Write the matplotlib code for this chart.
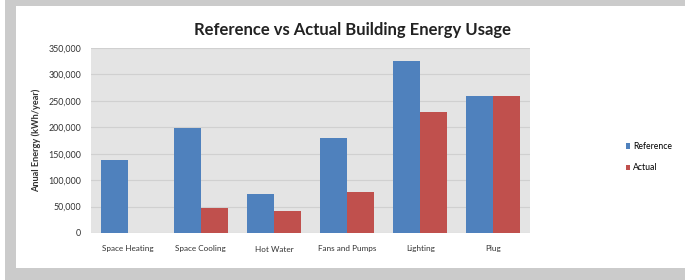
import numpy as np
import matplotlib
matplotlib.use("Agg")
import matplotlib.pyplot as plt
from matplotlib.patches import Rectangle
from matplotlib.ticker import FuncFormatter

plt.rcParams['font.family'] = ['Lato', 'DejaVu Sans']

# data
categories = ["Space Heating", "Space Cooling", "Hot Water", "Fans and Pumps", "Lighting", "Plug"]
reference = [138000, 198000, 74000, 180000, 325000, 259000]
actual = [0, 48000, 42000, 78000, 228000, 259000]

blue = "#4f81bd"
red = "#c0504d"

fig = plt.figure(figsize=(6.85, 2.8), dpi=100, facecolor="white")

# grey frame around white panel (no grey on the right edge)
fig.patches.append(Rectangle((5 / 685, 0), 1.2, 1, transform=fig.transFigure,
                             facecolor="#cbcbcb", edgecolor="none", zorder=-10))
fig.patches.append(Rectangle((16 / 685, 12 / 280), 1.2, 262 / 280,
                             transform=fig.transFigure,
                             facecolor="white", edgecolor="none", zorder=-9))

ax = fig.add_axes([91 / 685, 47 / 280, 439 / 685, 185 / 280])
ax.set_facecolor("#e4e4e4")

x = np.arange(len(categories))
w = 0.37
ax.bar(x - w / 2, reference, w, color=blue, label="Reference", zorder=3)
ax.bar(x + w / 2, actual, w, color=red, label="Actual", zorder=3)

ax.set_xlim(-0.5, len(categories) - 0.5)
ax.set_ylim(0, 350000)
ax.set_yticks(np.arange(0, 350001, 50000))
ax.yaxis.set_major_formatter(FuncFormatter(lambda v, p: f"{int(v):,}"))
ax.grid(axis="y", color="#d0d0d0", linewidth=0.8, zorder=0)
ax.set_xticks(x)
ax.set_xticklabels(categories, fontsize=5.9, color="#333333")
ax.tick_params(axis="y", labelsize=6.4, labelcolor="#333333", length=0, pad=7)
ax.tick_params(axis="x", length=0, pad=9)
for s in ax.spines.values():
    s.set_visible(False)

ax.set_ylabel("Anual Energy (kWh/year)", fontsize=6.6, fontweight="bold",
              color="#333333", labelpad=5)

fig.text(353 / 685, 1 - 30 / 280, "Reference vs Actual Building Energy Usage",
         ha="center", va="center", fontsize=12, fontweight="bold", color="#222222")

ax.legend(loc="center left", bbox_to_anchor=(1.2, 0.41), frameon=False,
          fontsize=6.2, handlelength=0.55, handleheight=0.55, handletextpad=0.3,
          labelspacing=1.4)

fig.savefig("out.png", dpi=100)
